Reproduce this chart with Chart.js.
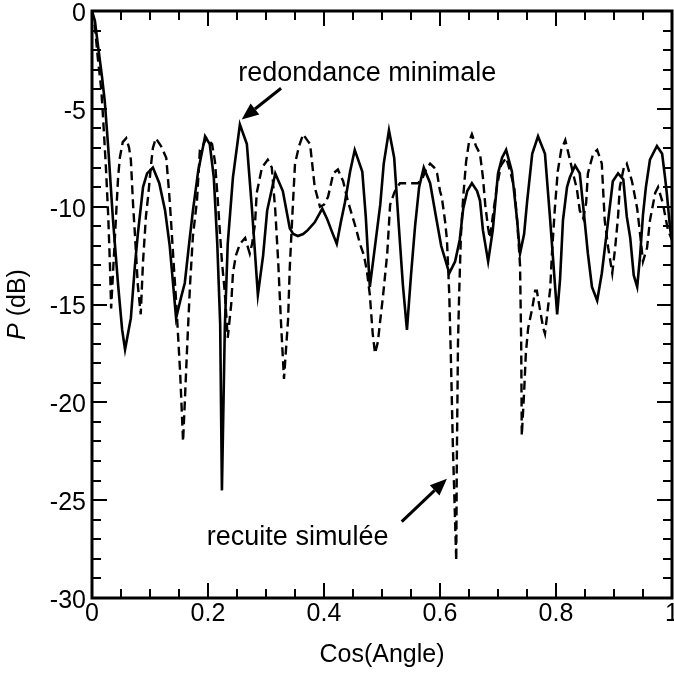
<!DOCTYPE html>
<html><head><meta charset="utf-8">
<script src="https://cdn.jsdelivr.net/npm/chart.js@4.4.0/dist/chart.umd.min.js"></script>
<style>html,body{margin:0;padding:0;background:#fff;}#wrap{width:674px;height:673px;}</style>
</head><body><div id="wrap"><canvas id="c" width="674" height="673"></canvas></div>
<script>
// ---- data ----
const solidX = [0.000,0.005,0.010,0.017,0.022,0.028,0.036,0.045,0.052,0.057,0.062,0.067,0.074,0.079,0.088,0.095,0.105,0.116,0.126,0.134,0.145,0.153,0.160,0.167,0.174,0.183,0.195,0.203,0.210,0.216,0.221,0.224,0.229,0.234,0.243,0.255,0.267,0.276,0.286,0.295,0.302,0.316,0.329,0.341,0.347,0.355,0.364,0.372,0.384,0.397,0.405,0.414,0.422,0.429,0.436,0.445,0.453,0.466,0.472,0.479,0.488,0.497,0.503,0.512,0.521,0.529,0.536,0.543,0.550,0.557,0.564,0.572,0.583,0.593,0.602,0.616,0.626,0.634,0.640,0.647,0.655,0.664,0.669,0.674,0.683,0.691,0.700,0.707,0.714,0.724,0.733,0.738,0.745,0.750,0.759,0.769,0.781,0.790,0.797,0.802,0.807,0.812,0.819,0.824,0.833,0.841,0.848,0.855,0.862,0.871,0.879,0.890,0.898,0.907,0.916,0.922,0.928,0.934,0.940,0.945,0.950,0.955,0.962,0.974,0.983,0.988,0.991,0.997,1.000];
const solidY = [0,-0.5,-1.7,-3.3,-4.6,-7.0,-10.6,-14.0,-16.3,-17.3,-16.5,-15.7,-13.0,-11.4,-9.0,-8.3,-8.0,-8.8,-10.2,-12.0,-15.7,-14.7,-13.9,-12.0,-10.2,-8.2,-6.4,-6.8,-8.5,-11.9,-16.0,-24.5,-16.2,-11.9,-8.5,-5.8,-6.8,-10.2,-14.5,-12.5,-10.2,-8.3,-9.2,-11.1,-11.4,-11.5,-11.4,-11.2,-10.8,-10.1,-10.6,-11.3,-11.9,-10.8,-9.8,-8.2,-7.1,-8.2,-10.5,-14.1,-12.0,-9.9,-7.8,-6.1,-7.5,-11.0,-14.0,-16.3,-13.5,-11.0,-9.0,-8.0,-8.8,-10.5,-12.0,-13.4,-12.8,-11.7,-10.1,-9.2,-8.8,-9.2,-9.7,-11.2,-12.8,-11.2,-8.3,-7.5,-7.1,-8.2,-10.7,-12.4,-11.4,-9.8,-7.3,-6.4,-7.3,-10.7,-13.5,-15.5,-13.7,-10.7,-9.0,-8.5,-7.9,-8.3,-10.3,-12.4,-14.1,-14.8,-13.4,-10.7,-8.7,-8.3,-8.6,-10.5,-11.6,-13.5,-14.1,-12.5,-10.4,-9.0,-7.6,-6.9,-7.3,-8.5,-9.3,-11.2,-11.7];
const dashedX = [0.000,0.005,0.010,0.016,0.019,0.024,0.028,0.031,0.033,0.036,0.040,0.045,0.048,0.053,0.059,0.064,0.067,0.071,0.074,0.079,0.084,0.088,0.093,0.097,0.102,0.105,0.110,0.119,0.128,0.133,0.136,0.141,0.145,0.152,0.157,0.160,0.164,0.169,0.174,0.181,0.186,0.191,0.197,0.207,0.212,0.216,0.221,0.224,0.229,0.234,0.240,0.243,0.248,0.255,0.264,0.272,0.276,0.281,0.284,0.293,0.303,0.310,0.316,0.321,0.326,0.331,0.334,0.338,0.341,0.345,0.350,0.357,0.364,0.371,0.376,0.384,0.393,0.400,0.407,0.416,0.424,0.433,0.441,0.448,0.455,0.462,0.469,0.474,0.479,0.484,0.488,0.493,0.497,0.502,0.509,0.514,0.521,0.526,0.531,0.540,0.552,0.562,0.569,0.576,0.583,0.590,0.595,0.600,0.603,0.609,0.612,0.616,0.619,0.622,0.628,0.629,0.631,0.633,0.636,0.640,0.645,0.650,0.655,0.662,0.669,0.674,0.678,0.683,0.686,0.691,0.698,0.705,0.714,0.721,0.728,0.733,0.738,0.740,0.741,0.745,0.748,0.752,0.759,0.764,0.767,0.772,0.778,0.781,0.786,0.790,0.793,0.798,0.803,0.809,0.816,0.824,0.831,0.836,0.841,0.847,0.852,0.855,0.864,0.871,0.879,0.881,0.884,0.890,0.897,0.902,0.907,0.910,0.917,0.922,0.931,0.940,0.945,0.950,0.957,0.962,0.971,0.976,0.984,0.993,1.000];
const dashedY = [0,-0.8,-2.4,-4.0,-5.4,-8.0,-10.5,-13.0,-15.2,-13.5,-11.3,-8.5,-7.5,-6.7,-6.5,-7.0,-7.6,-10.0,-11.4,-14.0,-15.5,-12.8,-10.5,-9.4,-7.8,-7.0,-6.5,-6.9,-7.5,-9.3,-10.6,-13.0,-14.8,-18.5,-22.0,-20.0,-17.2,-14.0,-11.5,-9.7,-7.1,-6.9,-6.5,-6.8,-7.7,-9.3,-11.5,-12.8,-14.4,-16.7,-15.0,-13.4,-12.5,-11.9,-11.6,-12.4,-11.9,-10.9,-9.3,-8.0,-7.6,-8.0,-10.2,-12.8,-16.0,-18.8,-17.5,-15.8,-13.1,-10.7,-7.8,-6.9,-6.3,-6.6,-6.8,-9.0,-10.0,-9.9,-9.5,-8.3,-8.1,-8.7,-9.7,-10.4,-11.1,-11.9,-12.5,-13.3,-14.5,-16.5,-17.5,-16.9,-15.8,-14.5,-12.4,-9.9,-9.3,-9.0,-8.8,-8.8,-8.8,-8.8,-8.6,-8.1,-7.8,-8.0,-8.3,-9.2,-9.5,-10.8,-11.7,-14.5,-18.0,-22.0,-28.1,-23.0,-17.0,-14.5,-11.5,-9.5,-7.7,-6.7,-6.3,-6.9,-7.3,-8.5,-9.9,-11.1,-11.6,-10.5,-9.0,-7.9,-7.5,-8.2,-9.0,-10.7,-13.0,-17.0,-21.7,-19.5,-17.5,-16.2,-15.2,-14.3,-14.3,-15.2,-16.2,-16.5,-15.2,-14.2,-12.4,-10.1,-8.2,-7.1,-6.6,-7.6,-8.5,-9.1,-10.2,-10.6,-9.8,-8.3,-7.3,-7.1,-7.8,-9.0,-10.7,-12.1,-13.4,-12.1,-10.5,-9.0,-8.0,-7.8,-8.7,-10.1,-11.4,-12.8,-12.1,-10.7,-9.3,-9.0,-9.8,-11.2,-11.7];
const xTickValues = [0, 0.2, 0.4, 0.6, 0.8, 1];
const xTickLabels = ['0', '0.2', '0.4', '0.6', '0.8', '1'];
const yTickValues = [0, -5, -10, -15, -20, -25, -30];
const yTickLabels = ['0', '-5', '-10', '-15', '-20', '-25', '-30'];
const seriesNames = ['redondance minimale', 'recuite simulée'];
const xTitle = 'Cos(Angle)';
const yTitleItalic = 'P';
const yTitleRest = ' (dB)';

// annotation anchors (data coordinates)
const notes = [
  {text: seriesNames[0], tx: 0.252, ty: -3.2, ax0: 0.326, ay0: -3.95, ax1: 0.258, ay1: -5.55},
  {text: seriesNames[1], tx: 0.198, ty: -26.9, ax0: 0.534, ay0: -26.1, ax1: 0.612, ay1: -23.9}
];

const FONT = '"Liberation Sans", Arial, Helvetica, sans-serif';
const toPts = (xs, ys) => xs.map((x, i) => ({x: x, y: ys[i]}));
const noPad = s => { s.paddingTop = 0; s.paddingBottom = 0; s.paddingLeft = 0; s.paddingRight = 0; };

const framePlugin = {
  id: 'frame',
  afterDatasetsDraw(chart) {
    const {ctx, chartArea: a, scales: {x, y}} = chart;
    ctx.save();
    ctx.strokeStyle = '#000';
    ctx.lineCap = 'butt';
    ctx.lineWidth = 2;
    ctx.beginPath();
    for (let k = 0; k <= 20; k++) {
      const px = Math.round(x.getPixelForValue(k * 0.05));
      const len = (k % 4 === 0) ? 15 : 9;
      ctx.moveTo(px, a.bottom); ctx.lineTo(px, a.bottom - len);
      ctx.moveTo(px, a.top); ctx.lineTo(px, a.top + len);
    }
    for (let k = 0; k <= 30; k++) {
      const py = Math.round(y.getPixelForValue(-k));
      const len = (k % 5 === 0) ? 15 : 9;
      ctx.moveTo(a.left, py); ctx.lineTo(a.left + len, py);
      ctx.moveTo(a.right, py); ctx.lineTo(a.right - len, py);
    }
    ctx.stroke();
    ctx.lineWidth = 3;
    ctx.strokeRect(a.left, a.top, a.right - a.left, a.bottom - a.top);
    ctx.restore();
  },
  afterDraw(chart) {
    const {ctx, chartArea: a, scales: {x, y}} = chart;
    ctx.save();
    ctx.fillStyle = '#000';
    ctx.strokeStyle = '#000';
    ctx.font = '27px ' + FONT;
    ctx.textAlign = 'left';
    ctx.textBaseline = 'middle';
    notes.forEach(n => {
      ctx.fillText(n.text, x.getPixelForValue(n.tx), y.getPixelForValue(n.ty));
      const x0 = x.getPixelForValue(n.ax0), y0 = y.getPixelForValue(n.ay0);
      const x1 = x.getPixelForValue(n.ax1), y1 = y.getPixelForValue(n.ay1);
      const ang = Math.atan2(y1 - y0, x1 - x0);
      const hl = 17, hw = 7;
      const bx = x1 - hl * Math.cos(ang), by = y1 - hl * Math.sin(ang);
      ctx.lineWidth = 3;
      ctx.beginPath(); ctx.moveTo(x0, y0); ctx.lineTo(bx, by); ctx.stroke();
      ctx.beginPath();
      ctx.moveTo(x1, y1);
      ctx.lineTo(bx + hw * Math.sin(ang), by - hw * Math.cos(ang));
      ctx.lineTo(bx - hw * Math.sin(ang), by + hw * Math.cos(ang));
      ctx.closePath(); ctx.fill();
    });
    ctx.save();
    ctx.translate(18, (a.top + a.bottom) / 2);
    ctx.rotate(-Math.PI / 2);
    ctx.textBaseline = 'middle';
    ctx.font = 'italic 25px ' + FONT;
    const w1 = ctx.measureText(yTitleItalic).width;
    ctx.font = '25px ' + FONT;
    const w2 = ctx.measureText(yTitleRest).width;
    const sx = -(w1 + w2) / 2;
    ctx.textAlign = 'left';
    ctx.font = 'italic 25px ' + FONT;
    ctx.fillText(yTitleItalic, sx, 0);
    ctx.font = '25px ' + FONT;
    ctx.fillText(yTitleRest, sx + w1, 0);
    ctx.restore();
    ctx.restore();
  }
};

new Chart(document.getElementById('c'), {
  type: 'line',
  data: {
    datasets: [
      {label: seriesNames[0], data: toPts(solidX, solidY), borderColor: '#000', borderWidth: 2.6, pointRadius: 0, tension: 0, fill: false},
      {label: seriesNames[1], data: toPts(dashedX, dashedY), borderColor: '#000', borderWidth: 2.4, borderDash: [9, 5], pointRadius: 0, tension: 0, fill: false}
    ]
  },
  options: {
    responsive: false,
    animation: false,
    devicePixelRatio: 1,
    layout: {autoPadding: false, padding: {left: 0, right: 2, top: 11, bottom: 0}},
    plugins: {legend: {display: false}, tooltip: {enabled: false}},
    scales: {
      x: {
        type: 'linear', min: 0, max: 1,
        grid: {display: false, drawTicks: false},
        border: {display: false},
        afterFit: s => { s.height = 75; noPad(s); },
        afterBuildTicks: s => { s.ticks = xTickValues.map(v => ({value: v})); },
        ticks: {
          color: '#000', padding: 4, maxRotation: 0, autoSkip: false,
          font: {family: FONT, size: 25, lineHeight: 1},
          callback: (v) => xTickLabels[xTickValues.indexOf(v)] ?? ''
        },
        title: {display: true, text: xTitle, color: '#000', font: {family: FONT, size: 25, lineHeight: 1.2}, padding: {top: 0, bottom: 3}}
      },
      y: {
        type: 'linear', min: -30, max: 0,
        grid: {display: false, drawTicks: false},
        border: {display: false},
        afterFit: s => { s.width = 92; noPad(s); },
        afterBuildTicks: s => { s.ticks = yTickValues.map(v => ({value: v})); },
        ticks: {
          color: '#000', padding: 6, autoSkip: false, labelOffset: 3,
          font: {family: FONT, size: 25, lineHeight: 1},
          callback: (v) => yTickLabels[yTickValues.indexOf(v)] ?? ''
        },
        title: {display: false}
      }
    }
  },
  plugins: [framePlugin]
});
</script>
</body></html>
